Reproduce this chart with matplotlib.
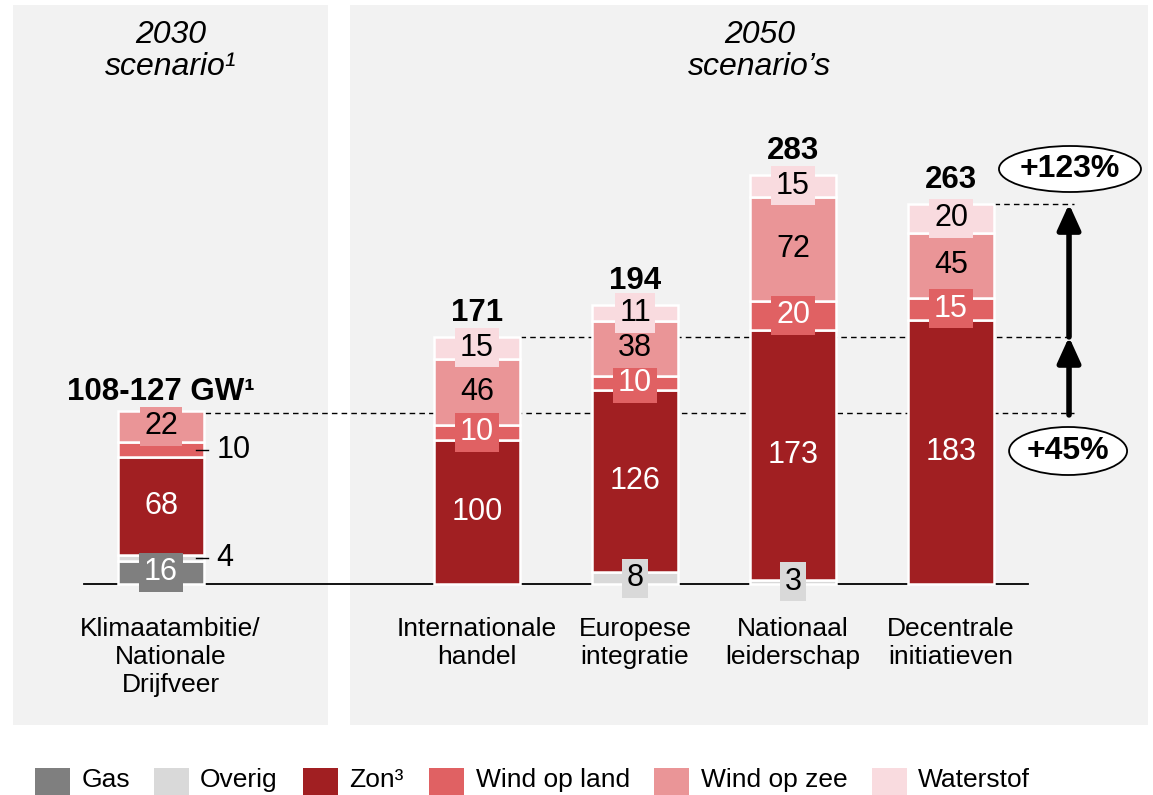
import matplotlib
matplotlib.use("Agg")
import matplotlib.pyplot as plt
from matplotlib.patches import Rectangle, Ellipse, FancyArrowPatch
import numpy as np

plt.rcParams['font.family'] = ['Liberation Sans', 'DejaVu Sans']

# ---------------- data ----------------
categories = ["Klimaatambitie/\nNationale\nDrijfveer", "Internationale\nhandel",
              "Europese\nintegratie", "Nationaal\nleiderschap", "Decentrale\ninitiatieven"]
x_pos = [0, 2, 3, 4, 5]
series_names = ["Gas", "Overig", "Zon³", "Wind op land", "Wind op zee", "Waterstof"]
gas = [16, 0, 0, 0, 0]
overig = [4, 0, 8, 3, 0]
zon = [68, 100, 126, 173, 183]
wind_land = [10, 10, 10, 20, 15]
wind_zee = [22, 46, 38, 72, 45]
waterstof = [0, 15, 11, 15, 20]
total_labels = ["108-127 GW¹", "171", "194", "283", "263"]
base_2030 = 118
growth_labels = ["+45%", "+123%"]
headers = ["2030\nscenario¹", "2050\nscenario’s"]

colors = ["#7f7f7f", "#d9d9d9", "#a11f22", "#e06163", "#ea9597", "#f9dbdf"]
text_colors = ["white", "black", "white", "white", "black", "black"]

# ---------------- figure ----------------
W, H = 1153, 795
fig = plt.figure(figsize=(W / 100, H / 100), dpi=100)
fig.patch.set_facecolor("white")
ax = fig.add_axes([0, 0, 1, 1])
ax.axis("off")
px_unit_x = 158.0
px_unit_y = 1.445
x0_px, y0_px = 161.0, 584.0
ax.set_xlim(-x0_px / px_unit_x, (W - x0_px) / px_unit_x)
ax.set_ylim(-(H - y0_px) / px_unit_y, y0_px / px_unit_y)


def fx(px):
    return px / W


def fy(py):
    return 1 - py / H


# background panels
for (l, r) in [(13, 328), (350, 1148)]:
    ax.add_patch(Rectangle((fx(l), fy(725)), fx(r) - fx(l), fy(5) - fy(725),
                           transform=ax.transAxes, facecolor="#f2f2f2",
                           edgecolor="none", zorder=0))

# headers
ax.text(fx(171), fy(51), headers[0], transform=ax.transAxes, ha="center", va="center",
        fontsize=23, style="italic", linespacing=1.12)
ax.text(fx(760), fy(51), headers[1], transform=ax.transAxes, ha="center", va="center",
        fontsize=23, style="italic", linespacing=1.12)

series = [gas, overig, zon, wind_land, wind_zee, waterstof]
bw = 0.55
bottoms = np.zeros(len(x_pos))
totals = np.sum(np.array(series), axis=0)

# reference dashed lines (behind bars)
tot_int = totals[1]
tot_dec = totals[4]
arrow_x = 5.747
ax.plot([x_pos[0] + 0.28, arrow_x + 0.03], [base_2030, base_2030], ls=(0, (4, 3)),
        color="black", lw=1, zorder=1)
ax.plot([x_pos[1] + bw / 2, arrow_x + 0.03], [tot_int, tot_int], ls=(0, (4, 3)),
        color="black", lw=1, zorder=1)
ax.plot([x_pos[4] + bw / 2, arrow_x + 0.03], [tot_dec, tot_dec], ls=(0, (4, 3)),
        color="black", lw=1, zorder=1)

for si, vals in enumerate(series):
    vals = np.array(vals, dtype=float)
    mask = vals > 0
    ax.bar(np.array(x_pos)[mask], vals[mask], bottom=bottoms[mask], width=bw,
           color=colors[si], edgecolor="white", linewidth=1.8, zorder=2)
    for i, v in enumerate(vals):
        if v <= 0:
            continue
        yc = bottoms[i] + v / 2
        if i == 0 and si in (1, 3):
            # outside label with leader line
            ax.plot([x_pos[i] + 0.22, x_pos[i] + 0.30], [yc, yc], color="black", lw=1, zorder=3)
            ax.text(x_pos[i] + 0.35, yc, f"{int(v)}", ha="left", va="center",
                    fontsize=22, color="black", zorder=4)
        else:
            ax.text(x_pos[i], yc, f"{int(v)}", ha="center", va="center", fontsize=22,
                    color=text_colors[si], zorder=4,
                    bbox=dict(boxstyle="square,pad=0.15", facecolor=colors[si],
                              edgecolor="none"))
    bottoms = bottoms + vals

# totals
for i, lab in enumerate(total_labels):
    y = totals[i] + (7 if i == 0 else 11)
    ax.text(x_pos[i], y, lab, ha="center", va="baseline", fontsize=22.5,
            fontweight="bold", zorder=5)

# baseline
ax.plot([-0.49, 5.49], [0, 0], color="black", lw=1.3, zorder=1.5)

# category labels
for i, cat in enumerate(categories):
    ax.text(x_pos[i] + (0.06 if i == 0 else 0), -(617 - y0_px) / px_unit_y, cat,
            ha="center", va="top", fontsize=19, linespacing=1.2)

# arrows
for (y_a, y_b) in [(base_2030 - 1, tot_int), (tot_int, tot_dec)]:
    arr = FancyArrowPatch((arrow_x, y_a), (arrow_x, y_b),
                          arrowstyle="-|>,head_length=1.1,head_width=0.5",
                          mutation_scale=14, color="black", lw=4, zorder=5,
                          shrinkA=0, shrinkB=0)
    ax.add_patch(arr)

# growth ellipses
ell_specs = [(5.741, (584 - 451) / px_unit_y, 118 / px_unit_x, 48 / px_unit_y, growth_labels[0]),
             (5.753, (584 - 169) / px_unit_y, 142 / px_unit_x, 46 / px_unit_y, growth_labels[1])]
for (cx, cy, w, h, lab) in ell_specs:
    ax.add_patch(Ellipse((cx, cy), w, h, facecolor="white", edgecolor="black",
                         lw=1.3, zorder=6))
    ax.text(cx, cy, lab, ha="center", va="center", fontsize=23, fontweight="bold", zorder=7)

# legend (bottom, partially cut off like the reference)
leg_patch_x = [35, 154, 303, 429, 654, 872]
leg_text_x = [82, 200, 349, 476, 701, 918]
for k, name in enumerate(series_names):
    ax.add_patch(Rectangle((fx(leg_patch_x[k]), fy(800)), fx(35), fy(768) - fy(800),
                           transform=ax.transAxes, facecolor=colors[k],
                           edgecolor="none", zorder=2, clip_on=False))
    ax.text(fx(leg_text_x[k]), fy(780), name, transform=ax.transAxes,
            ha="left", va="center", fontsize=19)

fig.savefig("out.png", dpi=100)
